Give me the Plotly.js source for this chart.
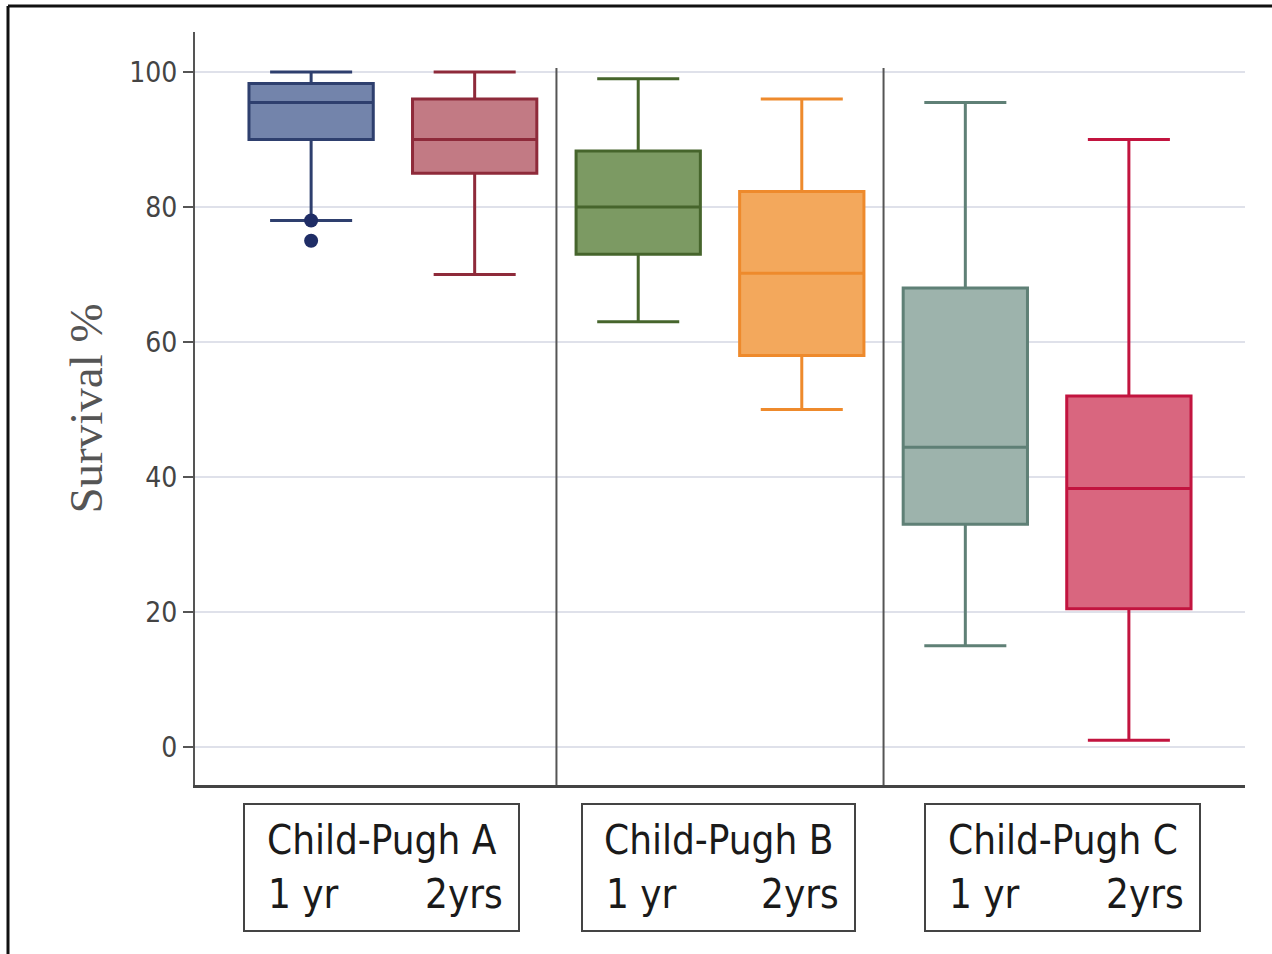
<!DOCTYPE html>
<html>
<head>
<meta charset="utf-8">
<script src="https://cdn.plot.ly/plotly-3.0.1.min.js"></script>
<style>
  html, body { margin: 0; padding: 0; background: #ffffff; }
  #chart { width: 1272px; height: 954px; }
</style>
</head>
<body>
<div id="chart"></div>
<script>
// ---- data ----
const groups = ["Child-Pugh A", "Child-Pugh B", "Child-Pugh C"];
const periods = ["1 yr", "2yrs"];
const categories = ["A 1 yr", "A 2yrs", "B 1 yr", "B 2yrs", "C 1 yr", "C 2yrs"];
const lowerWhisker = [78, 70, 63, 50, 15, 1];
const q1Values     = [90, 85, 73, 58, 33, 20.5];
const medianValues = [95.5, 90, 80, 70.2, 44.4, 38.3];
const q3Values     = [98.3, 96, 88.3, 82.3, 68, 52];
const upperWhisker = [100, 100, 99, 96, 95.5, 90];
const outlierCategory = ["A 1 yr", "A 1 yr"];
const outlierValues = [78, 75];
const yTicks = [0, 20, 40, 60, 80, 100];

// ---- styling ----
const fillColors = ["#7384AB", "#C27A84", "#7C9A63", "#F3A85C", "#9DB3AC", "#D9667F"];
const lineColors = ["#2E3F6E", "#8E2A3A", "#46652C", "#EE8A2C", "#5F8076", "#C2143F"];

const traces = categories.map((c, i) => ({
  type: "box",
  x: [c],
  q1: [q1Values[i]],
  median: [medianValues[i]],
  q3: [q3Values[i]],
  lowerfence: [lowerWhisker[i]],
  upperfence: [upperWhisker[i]],
  width: 0.76,
  whiskerwidth: 0.66,
  fillcolor: fillColors[i],
  line: { color: lineColors[i], width: 3 },
  boxpoints: false,
  hoverinfo: "skip",
  showlegend: false
}));

traces.push({
  type: "scatter",
  mode: "markers",
  x: outlierCategory,
  y: outlierValues,
  marker: { color: "#1F2D66", size: 14 },
  hoverinfo: "skip",
  showlegend: false
});

// pixel -> paper helpers (plot area: x 195..1245, y 32..785)
const L = 195, R = 1245, T = 32, B = 785;
const px = v => (v - L) / (R - L);
const py = v => (B - v) / (B - T);

const labelBoxes = [[244, 519], [582, 855], [925, 1200]];
const shapes = [];
const annotations = [];

// category separators
[1.5, 3.5].forEach(xv => shapes.push({
  type: "line", xref: "x", yref: "y", x0: xv, x1: xv, y0: -5.63, y1: 100.6,
  line: { color: "#555555", width: 2 }
}));

labelBoxes.forEach((b, gi) => {
  shapes.push({
    type: "rect", xref: "paper", yref: "paper",
    x0: px(b[0]), x1: px(b[1]), y0: py(931), y1: py(804),
    line: { color: "#444444", width: 2 }, fillcolor: "rgba(0,0,0,0)"
  });
  const font = { family: "DejaVu Sans Condensed, Liberation Sans Narrow, sans-serif", size: 40, color: "#1a1a1a" };
  annotations.push({
    xref: "paper", yref: "paper", x: px((b[0] + b[1]) / 2), y: py(840),
    text: groups[gi], showarrow: false, xanchor: "center", yanchor: "middle", font: font
  });
  annotations.push({
    xref: "paper", yref: "paper", x: px(b[0] + 22), y: py(894),
    text: periods[0], showarrow: false, xanchor: "left", yanchor: "middle", font: font
  });
  annotations.push({
    xref: "paper", yref: "paper", x: px(b[1] - 14), y: py(894),
    text: periods[1], showarrow: false, xanchor: "right", yanchor: "middle", font: font
  });
});

// outer frame (top and left edges)
shapes.push({ type: "line", xref: "paper", yref: "paper", x0: px(8), x1: px(1272), y0: py(6), y1: py(6), line: { color: "#111111", width: 3 } });
shapes.push({ type: "line", xref: "paper", yref: "paper", x0: px(8), x1: px(8), y0: py(6), y1: py(954), line: { color: "#111111", width: 3 } });

const layout = {
  width: 1272, height: 954,
  margin: { l: L, r: 1272 - R, t: T, b: 954 - B },
  paper_bgcolor: "#ffffff", plot_bgcolor: "#ffffff",
  showlegend: false,
  xaxis: {
    type: "category",
    categoryorder: "array", categoryarray: categories,
    range: [-0.71, 5.71],
    showticklabels: false, ticks: "",
    showgrid: false, zeroline: false,
    showline: true, linecolor: "#444444", linewidth: 3
  },
  yaxis: {
    range: [-5.63, 105.93],
    tickvals: yTicks,
    ticks: "outside", ticklen: 10, tickwidth: 2, tickcolor: "#555555",
    tickfont: { family: "DejaVu Sans Condensed, Liberation Sans Narrow, sans-serif", size: 28, color: "#444444" },
    showgrid: true, gridcolor: "#DFE1EA", gridwidth: 2,
    zeroline: false,
    showline: true, linecolor: "#555555", linewidth: 2,
    title: { text: "Survival %", font: { family: "Liberation Serif, serif", size: 47, color: "#555555" }, standoff: 12 }
  },
  shapes: shapes,
  annotations: annotations
};

Plotly.newPlot("chart", traces, layout, { displayModeBar: false, staticPlot: true });
</script>
</body>
</html>
